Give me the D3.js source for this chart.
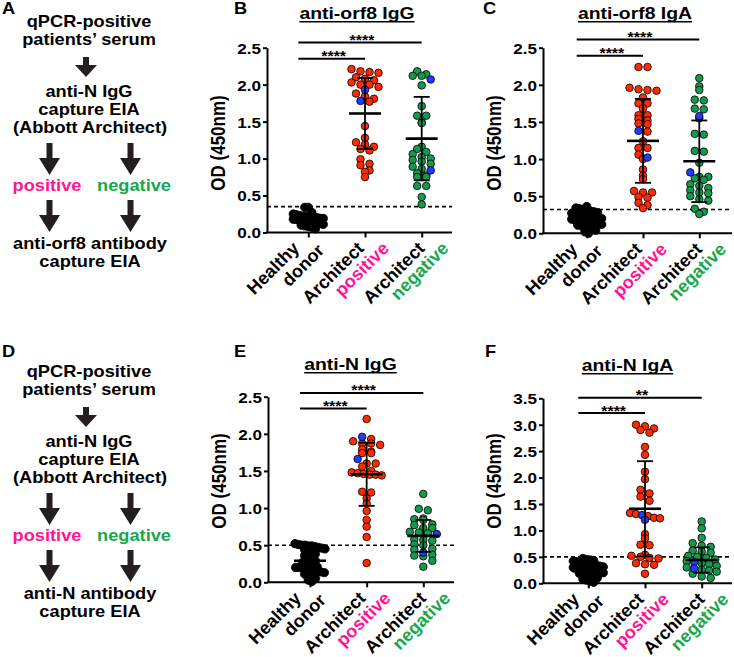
<!DOCTYPE html>
<html>
<head>
<meta charset="utf-8">
<script src="https://cdn.jsdelivr.net/npm/d3@7"></script>
<style>
  body { margin: 0; background: #fff; }
  svg { display: block; }
  text { font-family: "Liberation Sans", Arial, sans-serif; font-weight: bold; }
</style>
</head>
<body>
<svg id="fig" width="734" height="657"></svg>
<script>
// ---- data ----
const groupLines = [["Healthy", "donor"], ["Architect", "positive"], ["Architect", "negative"]];
const stars = ["****", "****"]; // [healthy vs positive, healthy vs negative]

// B  anti-orf8 IgG
const orf8IgG_healthy = [0.34, 0.34, 0.27, 0.25, 0.24, 0.23, 0.22, 0.22, 0.21, 0.21, 0.20, 0.20, 0.19, 0.19, 0.18, 0.18,
  0.18, 0.17, 0.17, 0.17, 0.16, 0.16, 0.15, 0.15, 0.14, 0.14, 0.13, 0.12, 0.11, 0.10, 0.09, 0.08, 0.07, 0.05];
const orf8IgG_pos = [2.21, 2.18, 2.17, 2.16, 2.10, 2.08, 2.06, 2.03, 2.00, 2.00, 1.97, 1.88, 1.84, 1.81, 1.77, 1.44,
  1.28, 1.22, 1.19, 1.16, 1.13, 1.11, 0.99, 0.93, 0.91, 0.84, 0.82, 0.75];
const orf8IgG_posBlue = [1.93, 1.78];
const orf8IgG_neg = [2.18, 2.14, 2.12, 2.12, 1.99, 1.71, 1.58, 1.58, 1.49, 1.48, 1.16, 1.13, 1.09, 1.06, 1.02, 1.00,
  0.98, 0.96, 0.93, 0.89, 0.86, 0.80, 0.77, 0.75, 0.75, 0.63, 0.63, 0.48, 0.38];
const orf8IgG_negBlue = [2.07, 0.84];
const orf8IgG_mean = [0.18, 1.61, 1.27];
const orf8IgG_sd = [0.06, 0.48, 0.565];
const orf8IgG_cutoff = 0.35;

// C  anti-orf8 IgA
const orf8IgA_healthy = [0.36, 0.34, 0.33, 0.32, 0.31, 0.30, 0.29, 0.28, 0.27, 0.26, 0.25, 0.25, 0.24, 0.23, 0.22, 0.22,
  0.21, 0.20, 0.20, 0.19, 0.18, 0.18, 0.17, 0.16, 0.15, 0.15, 0.14, 0.13, 0.12, 0.11, 0.10, 0.09, 0.08, 0.06, 0.04, 0.02, 0.00];
const orf8IgA_pos = [2.24, 2.24, 1.96, 1.94, 1.93, 1.92, 1.83, 1.75, 1.75, 1.68, 1.59, 1.59, 1.54, 1.52, 1.48, 1.47,
  1.37, 1.24, 1.15, 1.15, 1.06, 1.00, 0.86, 0.78, 0.73, 0.57, 0.55, 0.55, 0.49, 0.48, 0.41, 0.38, 0.34];
const orf8IgA_posBlue = [1.38, 1.02];
const orf8IgA_neg = [2.09, 1.98, 1.93, 1.80, 1.79, 1.68, 1.67, 1.55, 1.34, 1.33, 1.11, 1.10, 0.95, 0.76, 0.76, 0.74,
  0.72, 0.66, 0.64, 0.61, 0.58, 0.55, 0.54, 0.50, 0.46, 0.44, 0.33, 0.29, 0.26];
const orf8IgA_negBlue = [1.58, 0.82];
const orf8IgA_mean = [0.19, 1.245, 0.97];
const orf8IgA_sd = [0.08, 0.565, 0.55];
const orf8IgA_cutoff = 0.32;

// E  anti-N IgG
const nIgG_healthy = [0.52, 0.51, 0.50, 0.50, 0.49, 0.49, 0.48, 0.47, 0.46, 0.45, 0.44, 0.42, 0.40, 0.38, 0.36, 0.33,
  0.31, 0.29, 0.27, 0.25, 0.23, 0.22, 0.21, 0.20, 0.20, 0.19, 0.18, 0.17, 0.16, 0.15, 0.14, 0.13, 0.11, 0.09, 0.07, 0.05, 0.03, 0.01];
const nIgG_pos = [2.20, 1.93, 1.90, 1.87, 1.87, 1.85, 1.79, 1.76, 1.74, 1.74, 1.60, 1.60, 1.56, 1.50, 1.48, 1.47,
  1.46, 1.45, 1.45, 1.44, 1.22, 1.21, 1.13, 1.06, 0.96, 0.84, 0.75, 0.61, 0.26];
const nIgG_posBlue = [1.96, 1.66];
const nIgG_neg = [1.19, 0.99, 0.97, 0.86, 0.85, 0.84, 0.78, 0.77, 0.73, 0.73, 0.68, 0.67, 0.66, 0.58, 0.57, 0.56,
  0.51, 0.50, 0.45, 0.44, 0.37, 0.36, 0.35, 0.29, 0.21];
const nIgG_negBlue = [0.65, 0.40];
const nIgG_mean = [0.29, 1.455, 0.625];
const nIgG_sd = [0.14, 0.425, 0.215];
const nIgG_cutoff = 0.50;

// F  anti-N IgA
const nIgA_healthy = [0.47, 0.45, 0.44, 0.43, 0.42, 0.41, 0.40, 0.39, 0.38, 0.37, 0.36, 0.35, 0.34, 0.33, 0.32, 0.31,
  0.30, 0.29, 0.28, 0.27, 0.26, 0.25, 0.24, 0.23, 0.22, 0.21, 0.20, 0.19, 0.18, 0.16, 0.14, 0.12, 0.10, 0.08, 0.06, 0.04, 0.02];
const nIgA_pos = [3.00, 2.97, 2.93, 2.90, 2.85, 2.58, 2.43, 2.11, 1.97, 1.77, 1.70, 1.64, 1.56, 1.33, 1.31, 1.27,
  1.24, 1.23, 0.93, 0.85, 0.73, 0.72, 0.54, 0.52, 0.50, 0.48, 0.47, 0.38, 0.36, 0.35, 0.18];
const nIgA_posBlue = [1.29, 1.20];
const nIgA_neg = [1.17, 1.04, 0.86, 0.76, 0.71, 0.69, 0.62, 0.60, 0.58, 0.52, 0.50, 0.48, 0.45, 0.42, 0.38, 0.36,
  0.33, 0.30, 0.26, 0.24, 0.22, 0.18, 0.13, 0.10];
const nIgA_negBlue = [0.40, 0.28];
const nIgA_mean = [0.23, 1.41, 0.44];
const nIgA_sd = [0.10, 0.90, 0.24];
const nIgA_cutoff = 0.50;
const nIgA_stars = ["****", "**"];

// ---- look ----
const SX = 1.14;             // the figure is slightly stretched horizontally
const PINK = "#ff1493", GREEN = "#17a84c";
const fills = ["#000", "#ff2a00", "#14994f"];
const BLUE = "#1f3bff";
const R = 3.8, BIN = 6, MAXHALF = 15;
const steps = [3.6, 9, 9];   // horizontal spacing of points sharing a row, per group

const svg = d3.select("#fig");

function stext(parent, x, y, str, size, opt = {}) {
  const g = parent.append("g")
    .attr("transform", `translate(${x},${y}) scale(${opt.sx ?? SX},1)` + (opt.rotate ? ` rotate(${opt.rotate})` : ""));
  return g.append("text")
    .attr("text-anchor", opt.anchor || "middle")
    .attr("font-size", size)
    .attr("fill", opt.fill || "#000")
    .text(str);
}

// ---- flow diagrams (A, D) ----
function arrow(g, x, y0, y1, head, hw) {
  const sw = 3;
  g.append("path")
    .attr("d", `M${x - sw},${y0}L${x + sw},${y0}L${x + sw},${y1 - head}L${x + hw},${y1 - head}L${x},${y1}` +
      `L${x - hw},${y1 - head}L${x - sw},${y1 - head}Z`)
    .attr("fill", "#231f20");
}

function flow(letter, ly, oy, lastLine) {
  stext(svg, 2, ly, letter, 16, { anchor: "start" });
  const g = svg.append("g").attr("transform", `translate(0,${oy})`);
  stext(g, 89, 26.5, "qPCR-positive", 16);
  stext(g, 89, 45, "patients’ serum", 16);
  arrow(g, 86, 57, 77, 12, 11);
  stext(g, 89, 96.5, "anti-N IgG", 16);
  stext(g, 89, 115, "capture EIA", 16);
  stext(g, 90, 133, "(Abbott Architect)", 16);
  arrow(g, 49.5, 143, 175, 17, 10.5);
  arrow(g, 130.5, 143, 175, 17, 10.5);
  stext(g, 47, 190.5, "positive", 16, { fill: PINK });
  stext(g, 134, 190.5, "negative", 16, { fill: GREEN });
  arrow(g, 49.5, 200, 232, 17, 10.5);
  arrow(g, 130.5, 200, 232, 17, 10.5);
  stext(g, 90, 248.5, lastLine, 16);
  stext(g, 90, 267, "capture EIA", 16);
}
flow("A", 14, 0, "anti-orf8 antibody");
flow("D", 357, 350, "anti-N antibody");

// ---- scatter panels ----
const panels = [
  { letter: "B", lx: 234, ly: 14, title: "anti-orf8 IgG", tx: 357, ty: 19,
    left: 267, right: 452, top: 47.7, bottom: 232.5, ymax: 2.5, cx: [308.3, 421.7], labY: 143, sigY: [2.35, 2.57],
    healthy: orf8IgG_healthy, pos: orf8IgG_pos, posBlue: orf8IgG_posBlue, neg: orf8IgG_neg, negBlue: orf8IgG_negBlue,
    mean: orf8IgG_mean, sd: orf8IgG_sd, cutoff: orf8IgG_cutoff, stars: stars },
  { letter: "C", lx: 483, ly: 14, title: "anti-orf8 IgA", tx: 635, ty: 19,
    left: 543, right: 732, top: 47.7, bottom: 233.3, ymax: 2.5, cx: [586.7, 699.3], labY: 143, sigY: [2.39, 2.61],
    healthy: orf8IgA_healthy, pos: orf8IgA_pos, posBlue: orf8IgA_posBlue, neg: orf8IgA_neg, negBlue: orf8IgA_negBlue,
    mean: orf8IgA_mean, sd: orf8IgA_sd, cutoff: orf8IgA_cutoff, stars: stars },
  { letter: "E", lx: 234, ly: 357, title: "anti-N IgG", tx: 350.5, ty: 370,
    left: 268, right: 454, top: 396.7, bottom: 582.3, ymax: 2.5, cx: [310, 423.3], labY: 481, sigY: [2.34, 2.55],
    healthy: nIgG_healthy, pos: nIgG_pos, posBlue: nIgG_posBlue, neg: nIgG_neg, negBlue: nIgG_negBlue,
    mean: nIgG_mean, sd: nIgG_sd, cutoff: nIgG_cutoff, stars: stars },
  { letter: "F", lx: 485, ly: 357, title: "anti-N IgA", tx: 627.5, ty: 371,
    left: 543, right: 732, top: 398.3, bottom: 583.3, ymax: 3.5, cx: [588.3, 701.7], labY: 481, sigY: [3.22, 3.51],
    healthy: nIgA_healthy, pos: nIgA_pos, posBlue: nIgA_posBlue, neg: nIgA_neg, negBlue: nIgA_negBlue,
    mean: nIgA_mean, sd: nIgA_sd, cutoff: nIgA_cutoff, stars: nIgA_stars }
];

// label line anchors relative to tick: [line1, line2] per group
const labelOff = [[[-8, 17], [17, 19]], [[0, 17], [25, 17]], [[4, 17], [28, 17]]];

function swarm(points, y, x) {
  const bins = d3.group(points, p => Math.round(y(p.v) / BIN) + "_" + p.g);
  for (const [, arr] of bins) {
    arr.sort((a, b) => b.v - a.v);
    const n = arr.length, st = steps[arr[0].g];
    const sp = n > 1 ? Math.min(st, 2 * MAXHALF / (n - 1)) : 0;
    arr.forEach((p, i) => { p.px = x(p.g) + (i - (n - 1) / 2) * sp; p.py = y(p.v); });
  }
}

for (const P of panels) {
  const g = svg.append("g");
  const x = d3.scalePoint().domain([0, 1, 2]).range(P.cx);
  const y = d3.scaleLinear().domain([0, P.ymax]).range([P.bottom, P.top]);

  stext(g, P.lx, P.ly, P.letter, 16, { anchor: "start" });
  const tt = stext(g, P.tx, P.ty, P.title, 17);
  const tw = tt.node().getComputedTextLength();
  d3.select(tt.node().parentNode).append("line")
    .attr("x1", -tw / 2).attr("x2", tw / 2).attr("y1", 2.8).attr("y2", 2.8)
    .attr("stroke", "#000").attr("stroke-width", 1.4);

  // y axis
  const ya = g.append("g").attr("transform", `translate(${P.left},0)`)
    .call(d3.axisLeft(y).tickValues(d3.range(0, P.ymax + 0.01, 0.5)).tickFormat(d3.format(".1f"))
      .tickSize(4).tickSizeOuter(0).tickPadding(5));
  ya.select(".domain").attr("stroke-width", 2);
  ya.selectAll(".tick line").attr("stroke-width", 2);
  ya.selectAll(".tick text").attr("font-size", 15).attr("font-family", null).attr("fill", "#000")
    .attr("x", -6 / SX).attr("dy", "0.36em").attr("transform", `scale(${SX},1)`);

  // x axis
  g.append("line").attr("x1", P.left - 1).attr("x2", P.right).attr("y1", P.bottom).attr("y2", P.bottom)
    .attr("stroke", "#000").attr("stroke-width", 2);
  const xa = g.append("g").attr("transform", `translate(0,${P.bottom})`)
    .call(d3.axisBottom(x).tickSize(5).tickFormat(""));
  xa.select(".domain").remove();
  xa.selectAll(".tick line").attr("stroke-width", 2);
  groupLines.forEach((lines, i) => {
    lines.forEach((t, j) => {
      const o = labelOff[i][j];
      stext(g, x(i) + o[0], P.bottom + o[1], t, 18,
        { anchor: "end", sx: 1, rotate: -45, fill: j === 1 ? ["#000", PINK, GREEN][i] : "#000" });
    });
  });

  // y label
  stext(g, P.left - 42, P.labY, "OD (450nm)", 17, { rotate: -90 });

  // cutoff
  g.append("line").attr("x1", P.left).attr("x2", P.right).attr("y1", y(P.cutoff)).attr("y2", y(P.cutoff))
    .attr("stroke", "#000").attr("stroke-width", 1.6).attr("stroke-dasharray", "4,3");

  // points
  const pts = [];
  P.healthy.forEach(v => pts.push({ v, g: 0, blue: false }));
  P.pos.forEach(v => pts.push({ v, g: 1, blue: false }));
  P.posBlue.forEach(v => pts.push({ v, g: 1, blue: true }));
  P.neg.forEach(v => pts.push({ v, g: 2, blue: false }));
  P.negBlue.forEach(v => pts.push({ v, g: 2, blue: true }));
  swarm(pts, y, x);
  pts.sort((a, b) => a.blue - b.blue);
  g.append("g").selectAll("circle").data(pts).join("circle")
    .attr("cx", d => d.px).attr("cy", d => d.py).attr("r", d => d.g === 0 ? 4.2 : R)
    .attr("fill", d => d.blue ? BLUE : fills[d.g])
    .attr("stroke", "#000").attr("stroke-width", 0.8);

  // mean +- SD
  const eb = g.append("g").attr("stroke", "#000");
  P.mean.forEach((m, i) => {
    const cx = x(i), s = P.sd[i];
    eb.append("line").attr("x1", cx).attr("x2", cx).attr("y1", y(m + s)).attr("y2", y(m - s)).attr("stroke-width", 1.8);
    eb.append("line").attr("x1", cx - 8).attr("x2", cx + 8).attr("y1", y(m + s)).attr("y2", y(m + s)).attr("stroke-width", 1.8);
    eb.append("line").attr("x1", cx - 8).attr("x2", cx + 8).attr("y1", y(m - s)).attr("y2", y(m - s)).attr("stroke-width", 1.8);
    eb.append("line").attr("x1", cx - 16).attr("x2", cx + 16).attr("y1", y(m)).attr("y2", y(m)).attr("stroke-width", 2.6);
  });

  // significance bars
  [1, 2].forEach((t, k) => {
    const x1 = x(0) - 10, x2 = x(t), yy = y(P.sigY[k]);
    g.append("line").attr("x1", x1).attr("x2", x2).attr("y1", yy).attr("y2", yy)
      .attr("stroke", "#000").attr("stroke-width", 2);
    stext(g, (x1 + x2) / 2 + 2, yy + 2.5, P.stars[k], 14);
  });
}
</script>
</body>
</html>
